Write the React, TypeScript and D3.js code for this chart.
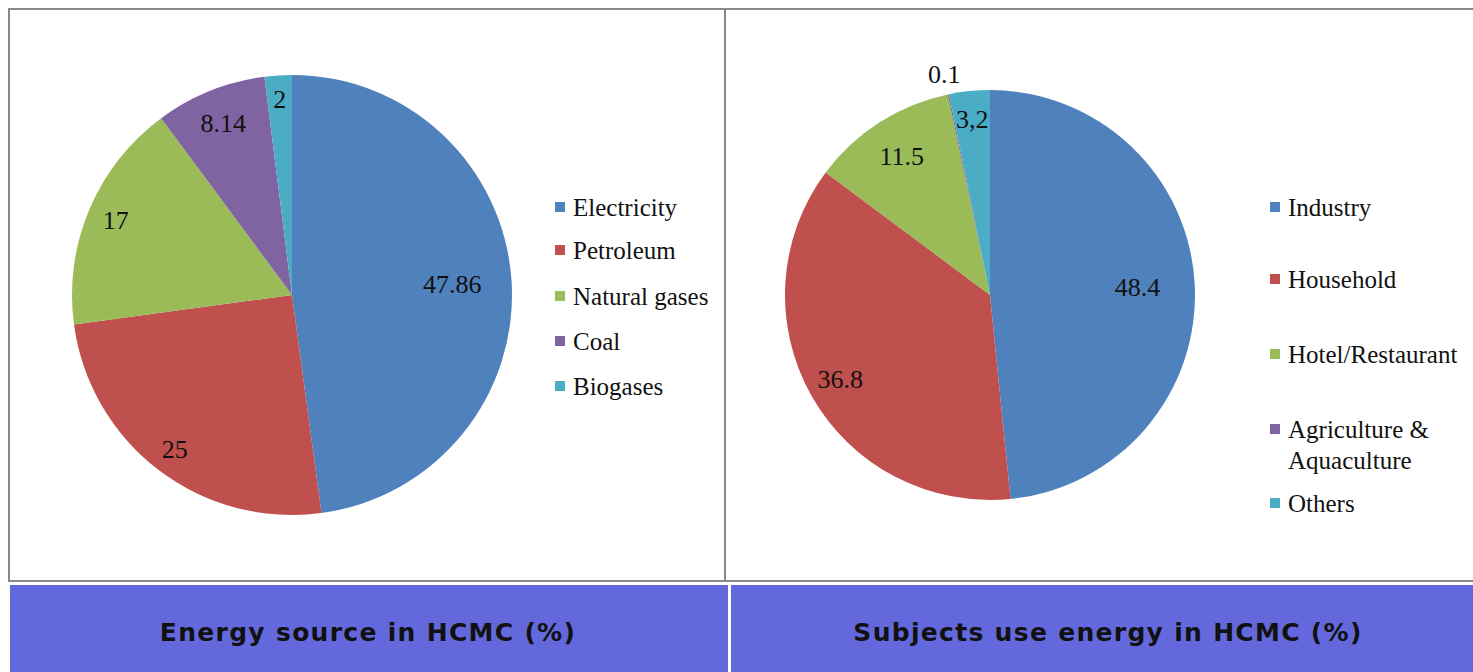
import React from 'react';
import { pie, arc, PieArcDatum } from 'd3';

// left chart: energy sources
const sourceNames = ['Electricity', 'Petroleum', 'Natural gases', 'Coal', 'Biogases'];
const sourceValues = [47.86, 25, 17, 8.14, 2];
const sourceLabels = ['47.86', '25', '17', '8.14', '2'];

// right chart: energy users
const userNames = ['Industry', 'Household', 'Hotel/Restaurant', 'Agriculture &\nAquaculture', 'Others'];
const userValues = [48.4, 36.8, 11.5, 0.1, 3.2];
const userLabels = ['48.4', '36.8', '11.5', '0.1', '3,2'];

const colors = ['#4F81BD', '#C0504D', '#9BBB59', '#8064A2', '#4BACC6'];
const SERIF = '"Liberation Serif", "Times New Roman", serif';

interface PieProps {
  cx: number;
  cy: number;
  r: number;
  values: number[];
  labels: string[];
  labelRadius: number[]; // fraction of r for each label
}

const PieChart = ({ cx, cy, r, values, labels, labelRadius }: PieProps) => {
  const slices = pie<number>().sort(null).value((d) => d)(values);
  const shape = arc<PieArcDatum<number>>().innerRadius(0).outerRadius(r);
  return (
    <g transform={`translate(${cx},${cy})`}>
      {slices.map((s, i) => (
        <path key={i} d={shape(s) || ''} fill={colors[i]} />
      ))}
      {slices.map((s, i) => {
        const lr = r * labelRadius[i];
        const lp = arc<PieArcDatum<number>>().innerRadius(lr).outerRadius(lr).centroid(s);
        return (
          <text
            key={'l' + i}
            x={lp[0]}
            y={lp[1]}
            textAnchor="middle"
            dominantBaseline="central"
            fontFamily={SERIF}
            fontSize={26}
            fill="#111"
          >
            {labels[i]}
          </text>
        );
      })}
    </g>
  );
};

interface LegendProps {
  x: number;
  ys: number[];
  names: string[];
}

const Legend = ({ x, ys, names }: LegendProps) => (
  <g>
    {names.map((n, i) => (
      <g key={n} transform={`translate(${x},${ys[i]})`}>
        <rect x={0} y={-5} width={10} height={10} fill={colors[i]} />
        <text x={18} y={0} fontFamily={SERIF} fontSize={25} fill="#111" dominantBaseline="central">
          {n.split('\n').map((line, j) => (
            <tspan key={j} x={18} dy={j === 0 ? 0 : 31}>
              {line}
            </tspan>
          ))}
        </text>
      </g>
    ))}
  </g>
);

export default function App() {
  const W = 1473;
  const H = 672;
  const band = '#6369DC';
  const titleFont = '"DejaVu Sans", Verdana, sans-serif';
  return (
    <svg
      width={W}
      height={H}
      style={{ position: 'absolute', left: 0, top: 0, background: '#fff' }}
    >
      {/* panel frames */}
      <rect x={9} y={9} width={716} height={572} fill="#fff" stroke="#888" strokeWidth={2} />
      <rect x={725} y={9} width={760} height={572} fill="#fff" stroke="#888" strokeWidth={2} />

      <PieChart
        cx={292}
        cy={295}
        r={220}
        values={sourceValues}
        labels={sourceLabels}
        labelRadius={[0.73, 0.88, 0.87, 0.84, 0.89]}
      />
      <Legend x={555} ys={[207, 250, 296, 341, 386]} names={sourceNames} />

      <PieChart
        cx={990}
        cy={295}
        r={205}
        values={userValues}
        labels={userLabels}
        labelRadius={[0.72, 0.84, 0.8, 1.1, 0.86]}
      />
      <Legend x={1270} ys={[207, 279, 354, 429, 503]} names={userNames} />

      {/* title bands */}
      <rect x={10} y={585} width={718} height={87} fill={band} />
      <rect x={731} y={585} width={742} height={87} fill={band} />
      <text
        x={368}
        y={632}
        textAnchor="middle"
        dominantBaseline="central"
        fontFamily={titleFont}
        fontWeight="bold"
        fontSize={25}
        letterSpacing={1.3}
        fill="#111"
      >
        Energy source in HCMC (%)
      </text>
      <text
        x={1108}
        y={632}
        textAnchor="middle"
        dominantBaseline="central"
        fontFamily={titleFont}
        fontWeight="bold"
        fontSize={25}
        letterSpacing={1.3}
        fill="#111"
      >
        Subjects use energy in HCMC (%)
      </text>
    </svg>
  );
}
